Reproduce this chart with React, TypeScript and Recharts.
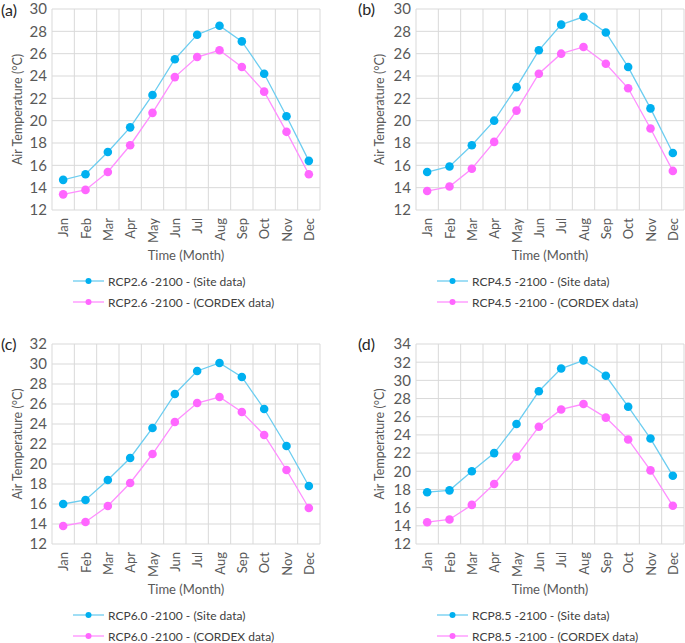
import React from "react";
import { CartesianGrid, Legend, Line, LineChart, XAxis, YAxis } from "recharts";

const months = ["Jan", "Feb", "Mar", "Apr", "May", "Jun", "Jul", "Aug", "Sep", "Oct", "Nov", "Dec"];

// (a) RCP2.6
const siteA = [14.7, 15.2, 17.2, 19.4, 22.3, 25.5, 27.7, 28.5, 27.1, 24.2, 20.4, 16.4];
const cordexA = [13.4, 13.8, 15.4, 17.8, 20.7, 23.9, 25.7, 26.3, 24.8, 22.6, 19.0, 15.2];
// (b) RCP4.5
const siteB = [15.4, 15.9, 17.8, 20.0, 23.0, 26.3, 28.6, 29.3, 27.9, 24.8, 21.1, 17.1];
const cordexB = [13.7, 14.1, 15.7, 18.1, 20.9, 24.2, 26.0, 26.6, 25.1, 22.9, 19.3, 15.5];
// (c) RCP6.0
const siteC = [16.0, 16.4, 18.4, 20.6, 23.6, 27.0, 29.3, 30.1, 28.7, 25.5, 21.8, 17.8];
const cordexC = [13.8, 14.2, 15.8, 18.1, 21.0, 24.2, 26.1, 26.7, 25.2, 22.9, 19.4, 15.6];
// (d) RCP8.5
const siteD = [17.7, 17.9, 20.0, 22.0, 25.2, 28.8, 31.3, 32.2, 30.5, 27.1, 23.6, 19.5];
const cordexD = [14.4, 14.7, 16.3, 18.6, 21.6, 24.9, 26.8, 27.4, 25.9, 23.5, 20.1, 16.2];

const ticks30 = [12, 14, 16, 18, 20, 22, 24, 26, 28, 30];
const ticks32 = [12, 14, 16, 18, 20, 22, 24, 26, 28, 30, 32];
const ticks34 = [12, 14, 16, 18, 20, 22, 24, 26, 28, 30, 32, 34];

const SITE_LINE = "#6CCDF0";
const SITE_DOT = "#00B0F0";
const CORDEX_LINE = "#FF8EFF";
const CORDEX_DOT = "#FF66FF";
const GRID = "#D9D9D9";
const TEXT = "#595959";

function MonthTick(props: any) {
  const { x, y, payload } = props;
  return (
    <text
      x={x}
      y={y}
      transform={`rotate(-90 ${x} ${y})`}
      textAnchor="end"
      dominantBaseline="central"
      fontSize={13}
      fill={TEXT}
    >
      {payload.value}
    </text>
  );
}

function XLabel(props: any) {
  const vb = props.viewBox;
  return (
    <text x={vb.x + vb.width / 2} y={vb.y + 45} textAnchor="middle" dominantBaseline="central" fontSize={13} fill={TEXT}>
      Time (Month)
    </text>
  );
}

function YLabel(props: any) {
  const vb = props.viewBox;
  const cx = vb.x + props.cx;
  const cy = vb.y + vb.height / 2;
  return (
    <text
      x={cx}
      y={cy}
      transform={`rotate(-90 ${cx} ${cy})`}
      textAnchor="middle"
      dominantBaseline="central"
      fontSize={12.5}
      fill={TEXT}
    >
      Air Temperature (°C)
    </text>
  );
}

type PanelProps = {
  tag: string;
  scenario: string;
  site: number[];
  cordex: number[];
  ticks: number[];
  left: number;
  top: number;
  width: number;
  height: number;
  marginTop: number;
  marginRight: number;
  yAxisWidth: number;
  yLabelX: number;
  legendH: number;
  tagX: number;
  tagY: number;
};

function Panel(p: PanelProps) {
  const data = months.map((m, i) => ({ month: m, site: p.site[i], cordex: p.cordex[i] }));
  const rows = [
    { label: `${p.scenario} -2100 - (Site data)`, line: SITE_LINE, dot: SITE_DOT },
    { label: `${p.scenario} -2100 - (CORDEX data)`, line: CORDEX_LINE, dot: CORDEX_DOT },
  ];

  return (
    <div style={{ position: "absolute", left: p.left, top: p.top, width: p.width, height: p.height }}>
      <LineChart
        width={p.width}
        height={p.height}
        data={data}
        margin={{ top: p.marginTop, right: p.marginRight, left: 0, bottom: 0 }}
      >
        <CartesianGrid
          stroke={GRID}
          horizontal={{ stroke: GRID, strokeDasharray: "5 3" } as any}
          verticalCoordinatesGenerator={({ offset }: any) =>
            months.map((_, i) => offset.left + (i * offset.width) / months.length).concat(offset.left + offset.width)
          }
        />
        <XAxis
          dataKey="month"
          scale="band"
          axisLine={false}
          tickLine={false}
          tickSize={0}
          tickMargin={8}
          interval={0}
          height={52}
          tick={<MonthTick />}
          label={<XLabel />}
        />
        <YAxis
          domain={[p.ticks[0], p.ticks[p.ticks.length - 1]]}
          ticks={p.ticks}
          interval={0}
          axisLine={false}
          tickLine={false}
          tickSize={0}
          tickMargin={5}
          width={p.yAxisWidth}
          tick={{ fontSize: 15, fill: TEXT }}
          label={<YLabel cx={p.yLabelX} />}
        />
        <Legend
          verticalAlign="bottom"
          wrapperStyle={{ left: 0, bottom: 0, width: p.width, height: p.legendH }}
          content={() => (
            <div style={{ position: "relative", height: p.legendH, fontSize: 12, color: "#404040" }}>
              {rows.map((r, i) => (
                <div
                  key={r.label}
                  style={{
                    position: "absolute",
                    left: p.yAxisWidth + 21,
                    top: 8.5 + i * 21,
                    height: 21,
                    display: "flex",
                    alignItems: "center",
                    whiteSpace: "nowrap",
                  }}
                >
                  <svg width={31} height={10} style={{ display: "block" }}>
                    <line x1={0} y1={5} x2={31} y2={5} stroke={r.line} strokeWidth={1.3} />
                    <circle cx={15.5} cy={5} r={3} fill={r.dot} />
                  </svg>
                  <span style={{ marginLeft: 4 }}>{r.label}</span>
                </div>
              ))}
            </div>
          )}
        />
        <Line
          type="linear"
          dataKey="site"
          stroke={SITE_LINE}
          strokeWidth={1.3}
          dot={{ r: 4.3, fill: SITE_DOT, stroke: SITE_DOT, strokeWidth: 0 }}
          activeDot={false}
          isAnimationActive={false}
        />
        <Line
          type="linear"
          dataKey="cordex"
          stroke={CORDEX_LINE}
          strokeWidth={1.3}
          dot={{ r: 4.3, fill: CORDEX_DOT, stroke: CORDEX_DOT, strokeWidth: 0 }}
          activeDot={false}
          isAnimationActive={false}
        />
      </LineChart>
      <div
        style={{
          position: "absolute",
          left: p.tagX,
          top: p.tagY,
          fontSize: 16,
          lineHeight: "19px",
          color: "#262626",
        }}
      >
        {p.tag}
      </div>
    </div>
  );
}

export default function App() {
  return (
    <div
      style={{
        position: "absolute",
        left: 0,
        top: 0,
        width: 685,
        height: 643,
        background: "#fff",
        overflow: "hidden",
        fontFamily: "Lato, 'Open Sans', sans-serif",
      }}
    >
      <Panel
        tag="(a)"
        scenario="RCP2.6"
        site={siteA}
        cordex={cordexA}
        ticks={ticks30}
        left={0}
        top={0}
        width={340}
        height={320}
        marginTop={9}
        marginRight={20}
        yAxisWidth={52}
        yLabelX={17}
        legendH={58}
        tagX={1}
        tagY={0}
      />
      <Panel
        tag="(b)"
        scenario="RCP4.5"
        site={siteB}
        cordex={cordexB}
        ticks={ticks30}
        left={340}
        top={0}
        width={345}
        height={320}
        marginTop={9}
        marginRight={1}
        yAxisWidth={76}
        yLabelX={39}
        legendH={58}
        tagX={18}
        tagY={-1}
      />
      <Panel
        tag="(c)"
        scenario="RCP6.0"
        site={siteC}
        cordex={cordexC}
        ticks={ticks32}
        left={0}
        top={320}
        width={340}
        height={323}
        marginTop={24}
        marginRight={20}
        yAxisWidth={52}
        yLabelX={17}
        legendH={47}
        tagX={1}
        tagY={14}
      />
      <Panel
        tag="(d)"
        scenario="RCP8.5"
        site={siteD}
        cordex={cordexD}
        ticks={ticks34}
        left={340}
        top={320}
        width={345}
        height={323}
        marginTop={24}
        marginRight={1}
        yAxisWidth={76}
        yLabelX={39}
        legendH={47}
        tagX={18}
        tagY={14}
      />
    </div>
  );
}
